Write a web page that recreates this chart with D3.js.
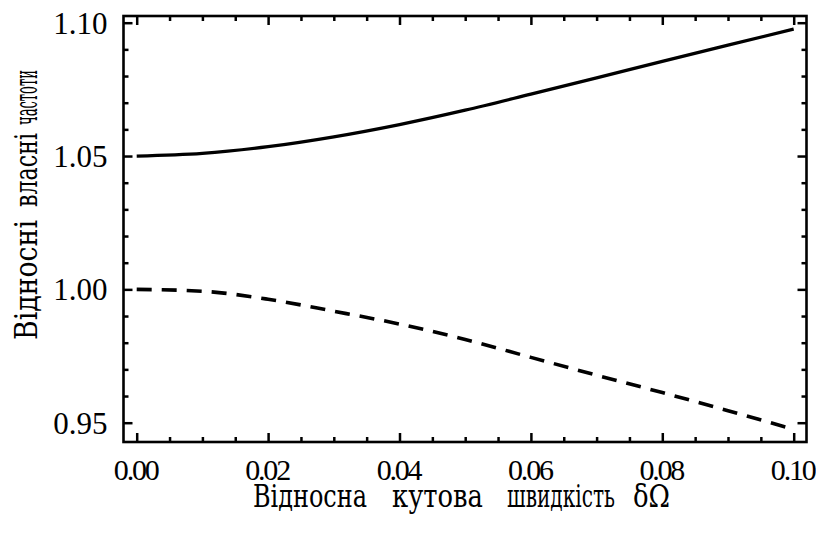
<!DOCTYPE html>
<html>
<head>
<meta charset="utf-8">
<script src="https://cdn.jsdelivr.net/npm/d3@7"></script>
<style>
  html, body { margin: 0; padding: 0; background: #fff; }
  #chart .tick text { font-family: "Times New Roman", "Liberation Serif", Tinos, serif; }
  #chart .title text { font-family: "DejaVu Serif", "Times New Roman", serif; font-stretch: condensed; }
</style>
</head>
<body>
<svg id="chart" width="816" height="538"></svg>
<script>
// Relative angular velocity δΩ
const omega = [0.00, 0.01, 0.02, 0.03, 0.04, 0.05, 0.06, 0.07, 0.08, 0.09, 0.10];
// Upper branch of relative natural frequencies (solid)
const upperFreq = [1.0500, 1.0510, 1.0535, 1.0572, 1.0618, 1.0672, 1.0732, 1.0793, 1.0855, 1.0916, 1.0976];
// Lower branch of relative natural frequencies (dashed)
const lowerFreq = [1.0000, 0.9993, 0.9963, 0.9918, 0.9870, 0.9812, 0.9745, 0.9678, 0.9613, 0.9545, 0.9475];

const xMajor = [0.00, 0.02, 0.04, 0.06, 0.08, 0.10];
const xMinor = [0.005, 0.01, 0.015, 0.025, 0.03, 0.035, 0.045, 0.05, 0.055, 0.065, 0.07, 0.075, 0.085, 0.09, 0.095];
const yMajor = [0.95, 1.00, 1.05, 1.10];
const yMinor = [0.96, 0.97, 0.98, 0.99, 1.01, 1.02, 1.03, 1.04, 1.06, 1.07, 1.08, 1.09];
const xTickLabels = ["0.00", "0.02", "0.04", "0.06", "0.08", "0.10"];
const yTickLabels = ["0.95", "1.00", "1.05", "1.10"];

// Axis titles, word by word (the words are widely spaced)
const xTitleWords = ["Відносна", "кутова", "швидкість", "δΩ"];
const yTitleWords = ["Відносні", "власні", "частоти"];

const FONT = "Times New Roman, Liberation Serif, Tinos, serif";

const svg = d3.select("#chart");
const frame = { left: 123.5, top: 16, right: 806.5, bottom: 442 };

const x = d3.scaleLinear().domain([0, 0.1]).range([136.7, 793.7]);
const y = d3.scaleLinear().domain([0.95, 1.10]).range([422.7, 22.7]);

const tickStroke = 2.5;
const majorLen = 9, minorLen = 5;

function styleAxis(g) {
  g.attr("font-family", FONT);
  g.select(".domain").remove();
  g.selectAll(".tick line").attr("stroke", "#000").attr("stroke-width", tickStroke);
}

// Bottom axis: inward ticks, labels below the frame
svg.append("g")
  .attr("transform", `translate(0,${frame.bottom})`)
  .call(d3.axisBottom(x).tickValues(xMajor).tickSize(-majorLen).tickPadding(0).tickFormat((d, i) => xTickLabels[i]))
  .call(styleAxis)
  .call(g => g.selectAll(".tick text")
    .attr("fill", "#000")
    .attr("font-size", 30).attr("letter-spacing", -2.2)
    .attr("dx", -1.5).attr("y", 38).attr("dy", 0));
svg.append("g")
  .attr("transform", `translate(0,${frame.bottom})`)
  .call(d3.axisBottom(x).tickValues(xMinor).tickSize(-minorLen).tickFormat(""))
  .call(styleAxis);

// Top axis: inward ticks only
svg.append("g")
  .attr("transform", `translate(0,${frame.top})`)
  .call(d3.axisTop(x).tickValues(xMajor).tickSize(-majorLen).tickFormat(""))
  .call(styleAxis);
svg.append("g")
  .attr("transform", `translate(0,${frame.top})`)
  .call(d3.axisTop(x).tickValues(xMinor).tickSize(-minorLen).tickFormat(""))
  .call(styleAxis);

// Left axis with labels
svg.append("g")
  .attr("transform", `translate(${frame.left},0)`)
  .call(d3.axisLeft(y).tickValues(yMajor).tickSize(-majorLen).tickPadding(0).tickFormat((d, i) => yTickLabels[i]))
  .call(styleAxis)
  .call(g => g.selectAll(".tick text")
    .attr("fill", "#000")
    .attr("font-size", 31).attr("letter-spacing", 0)
    .attr("x", -16).attr("dy", "0.34em"));
svg.append("g")
  .attr("transform", `translate(${frame.left},0)`)
  .call(d3.axisLeft(y).tickValues(yMinor).tickSize(-minorLen).tickFormat(""))
  .call(styleAxis);

// Right axis: inward ticks only
svg.append("g")
  .attr("transform", `translate(${frame.right},0)`)
  .call(d3.axisRight(y).tickValues(yMajor).tickSize(-majorLen).tickFormat(""))
  .call(styleAxis);
svg.append("g")
  .attr("transform", `translate(${frame.right},0)`)
  .call(d3.axisRight(y).tickValues(yMinor).tickSize(-minorLen).tickFormat(""))
  .call(styleAxis);

// Plot frame
svg.append("rect")
  .attr("x", frame.left).attr("y", frame.top)
  .attr("width", frame.right - frame.left).attr("height", frame.bottom - frame.top)
  .attr("fill", "none").attr("stroke", "#000").attr("stroke-width", 2.6);

// Frequency curves
const line = (vals) => d3.line()
  .x((d, i) => x(omega[i]))
  .y(d => y(d))
  .curve(d3.curveMonotoneX)(vals);

svg.append("path")
  .attr("d", line(upperFreq))
  .attr("fill", "none").attr("stroke", "#000").attr("stroke-width", 3.2);

svg.append("path")
  .attr("d", line(lowerFreq))
  .attr("fill", "none").attr("stroke", "#000").attr("stroke-width", 3.6)
  .attr("stroke-dasharray", "15,10");

// Place each word at its start and squeeze it horizontally to the wanted width
function fitWords(g, words, boxes, baseline) {
  g.selectAll("text").data(words).join("text")
    .attr("fill", "#000").attr("font-size", 32)
    .text(d => d)
    .attr("transform", function (d, i) {
      const w = this.getComputedTextLength() || boxes[i][1];
      return `translate(${boxes[i][0]},${baseline}) scale(${boxes[i][1] / w},1)`;
    });
}

// X axis title
const xWordBoxes = [[253, 114], [392, 91], [507, 108], [633, 37]];
svg.append("g").attr("class", "title")
  .call(g => fitWords(g, xTitleWords, xWordBoxes, 506.5));

// Y axis title (rotated)
const yWordBoxes = [[-340, 120], [-207, 74], [-125, 55]];
svg.append("g").attr("class", "title")
  .attr("transform", "translate(37,0) rotate(-90)")
  .call(g => fitWords(g, yTitleWords, yWordBoxes, 0));
</script>
</body>
</html>
